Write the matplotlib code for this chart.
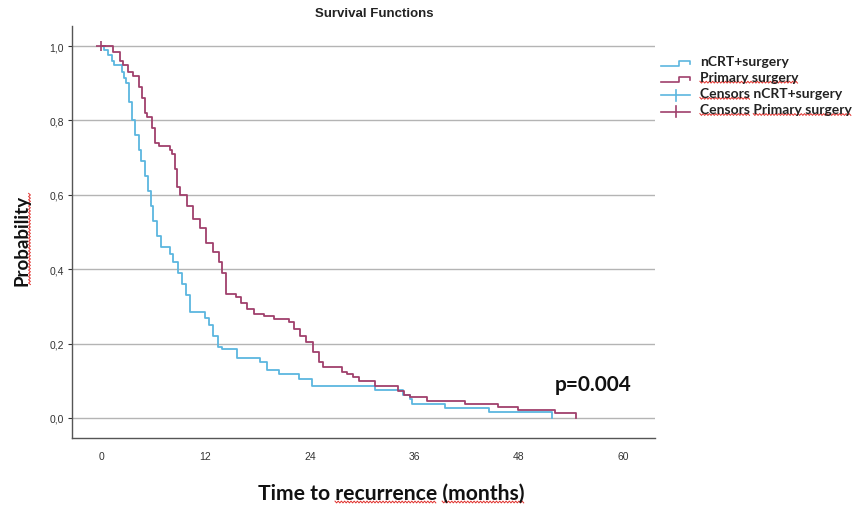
import numpy as np
import matplotlib
matplotlib.use("Agg")
import matplotlib.pyplot as plt
from matplotlib.lines import Line2D
from matplotlib.legend_handler import HandlerBase
from matplotlib.transforms import IdentityTransform

# Kaplan-Meier step data: time of each step (months) and survival after it
ncrt_times = [0, 0.3, 0.8, 1.2, 1.5, 2.4, 2.6, 2.9, 3.2, 3.5, 3.9, 4.3, 4.6, 5.0, 5.4,
              5.7, 6.0, 6.4, 6.9, 7.9, 8.3, 8.8, 9.3, 9.8, 10.2, 11.9, 12.4, 12.9,
              13.4, 13.9, 15.6, 18.3, 19.1, 20.5, 22.7, 24.3, 31.5, 34.7, 35.5,
              35.8, 39.6, 44.6, 51.9]
ncrt_surv = [1.0, 0.99, 0.975, 0.96, 0.95, 0.93, 0.915, 0.90, 0.85, 0.80, 0.76, 0.72,
             0.69, 0.65, 0.61, 0.57, 0.53, 0.49, 0.46, 0.44, 0.42, 0.39, 0.36, 0.33,
             0.285, 0.27, 0.25, 0.22, 0.19, 0.185, 0.16, 0.15, 0.13, 0.118, 0.105,
             0.086, 0.075, 0.062, 0.05, 0.038, 0.027, 0.016, 0.0]

surg_times = [0, 1.4, 2.2, 2.5, 3.1, 3.7, 4.3, 4.7, 5.1, 5.3, 5.9, 6.2, 6.6, 7.9, 8.2,
              8.5, 8.7, 9.1, 9.9, 10.6, 11.4, 12.1, 12.9, 13.5, 13.9, 14.4, 15.5,
              16.1, 16.8, 17.6, 18.7, 19.9, 21.6, 22.2, 22.9, 23.6, 24.4, 25.0,
              25.5, 27.7, 28.3, 29.0, 29.6, 31.5, 34.1, 34.8, 35.5, 37.5, 41.9,
              45.6, 47.9, 52.2, 54.6]
surg_surv = [1.0, 0.985, 0.96, 0.95, 0.93, 0.92, 0.89, 0.86, 0.82, 0.81, 0.78, 0.74,
             0.73, 0.72, 0.71, 0.67, 0.62, 0.60, 0.57, 0.535, 0.51, 0.47, 0.446,
             0.42, 0.39, 0.333, 0.325, 0.31, 0.293, 0.28, 0.274, 0.266, 0.258, 0.24,
             0.22, 0.204, 0.177, 0.15, 0.137, 0.124, 0.118, 0.11, 0.10, 0.086,
             0.073, 0.062, 0.055, 0.046, 0.038, 0.03, 0.021, 0.012, 0.0]

# censored observations (time, survival)
surg_censor_t = [0.0]
surg_censor_s = [1.0]

group_labels = ["nCRT+surgery", "Primary surgery",
                "Censors nCRT+surgery", "Censors Primary surgery"]
x_ticks = [0, 12, 24, 36, 48, 60]
y_ticks = [0.0, 0.2, 0.4, 0.6, 0.8, 1.0]
y_tick_labels = ["0,0", "0,2", "0,4", "0,6", "0,8", "1,0"]
p_text = "p=0.004"

BLUE = "#5cb6df"
PURPLE = "#a0406c"
BOLD_FONT = ["Lato", "DejaVu Sans"]
TICK_FONT = ["Liberation Sans", "DejaVu Sans"]

fig = plt.figure(figsize=(8.65, 5.10), dpi=100)
ax = fig.add_axes([72 / 865, 1 - 439 / 510, (655 - 72) / 865, (439 - 27) / 510])

ax.step(ncrt_times, ncrt_surv, where="post", color=BLUE, lw=1.3)
ax.step(surg_times, surg_surv, where="post", color=PURPLE, lw=1.3)
ax.plot(surg_censor_t, surg_censor_s, ls="none", marker="+", ms=7, mew=1.2,
        color=PURPLE)

ax.set_xlim(-3.35, 63.7)
ax.set_ylim(-0.054, 1.054)
ax.set_xticks(x_ticks)
ax.set_xticklabels([str(t) for t in x_ticks], family=TICK_FONT, fontsize=7.5,
                   color="#333333")
ax.set_yticks(y_ticks)
ax.set_yticklabels(y_tick_labels, family=TICK_FONT, fontsize=7.5, color="#333333")
ax.tick_params(axis="x", length=0, pad=9)
ax.tick_params(axis="y", length=3, width=0.8, pad=3, color="#333333")
ax.grid(axis="y", color="#b4b4b4", lw=1.0)
ax.set_axisbelow(True)
for side in ("top", "right"):
    ax.spines[side].set_visible(False)
for side in ("left", "bottom"):
    ax.spines[side].set_color("#555555")
    ax.spines[side].set_linewidth(1.0)

fig.text(374 / 865, 1 - 14 / 510, "Survival Functions", ha="center", va="center",
         family=TICK_FONT, fontweight="bold", fontsize=9.5, color="#222222")
ylab = fig.text(22 / 865, 1 - 240 / 510, "Probability", rotation=90, ha="center",
                va="center", family=BOLD_FONT, fontweight="bold", fontsize=13.5,
                color="#111111")
xlab = fig.text(391 / 865, 1 - 494 / 510, "Time to recurrence (months)", ha="center",
                va="center", family=BOLD_FONT, fontweight="bold", fontsize=15.2,
                color="#111111")
ax.text(52.2, 0.09, p_text, ha="left", va="center", family=BOLD_FONT,
        fontweight="bold", fontsize=15, color="#111111")


class StepHandler(HandlerBase):
    def create_artists(self, legend, orig_handle, xdescent, ydescent, width,
                       height, fontsize, trans):
        y0 = -height * 0.1 - ydescent
        y1 = height * 0.38 - ydescent
        x = -xdescent
        xs = [x, x + width * 0.6, x + width * 0.6, x + width, x + width]
        ys = [y0, y0, y1, y1, y0 + (y1 - y0) * 0.5]
        return [Line2D(xs, ys, color=orig_handle.get_color(), lw=1.2,
                       transform=trans)]


class CensorHandler(HandlerBase):
    def create_artists(self, legend, orig_handle, xdescent, ydescent, width,
                       height, fontsize, trans):
        x = -xdescent
        yc = height * 0.2 - ydescent
        c = orig_handle.get_color()
        horiz = Line2D([x, x + width], [yc, yc], color=c, lw=1.2, transform=trans)
        vert = Line2D([x + width / 2, x + width / 2],
                      [yc - height * 0.55, yc + height * 0.55], color=c, lw=1.2,
                      transform=trans)
        return [horiz, vert]


h1 = Line2D([], [], color=BLUE)
h2 = Line2D([], [], color=PURPLE)
h3 = Line2D([], [], color=BLUE)
h4 = Line2D([], [], color=PURPLE)
leg = fig.legend([h1, h2, h3, h4], group_labels, loc="upper left",
                 bbox_to_anchor=(661 / 865, 1 - 56 / 510), frameon=False,
                 prop={"family": BOLD_FONT, "weight": "bold", "size": 10},
                 handler_map={h1: StepHandler(), h2: StepHandler(),
                              h3: CensorHandler(), h4: CensorHandler()},
                 handlelength=2.1, handletextpad=0.7, labelspacing=0.3,
                 borderaxespad=0, borderpad=0)
for t in leg.get_texts():
    t.set_color("#222222")

# wavy red spell-check underlines
fig.canvas.draw()
renderer = fig.canvas.get_renderer()


def word_span(text_artist, word):
    s = text_artist.get_text()
    i = s.index(word)
    bb = text_artist.get_window_extent(renderer)
    prop = text_artist.get_fontproperties()
    full_w = renderer.get_text_width_height_descent(s, prop, ismath=False)[0]
    pre_w = renderer.get_text_width_height_descent(s[:i], prop, ismath=False)[0] if i else 0
    end_w = renderer.get_text_width_height_descent(s[:i + len(word)], prop,
                                                   ismath=False)[0]
    return bb, pre_w / full_w, end_w / full_w


def squiggle_h(x0, x1, y):
    xs = np.arange(x0, x1 + 0.1, 1.6)
    ys = y + np.where(np.arange(len(xs)) % 2 == 0, 0.9, -0.9)
    fig.add_artist(Line2D(xs, ys, color="#e0302c", lw=0.7,
                          transform=IdentityTransform()))


def squiggle_v(y0, y1, x):
    ys = np.arange(y0, y1 + 0.1, 1.6)
    xs = x + np.where(np.arange(len(ys)) % 2 == 0, 0.9, -0.9)
    fig.add_artist(Line2D(xs, ys, color="#e0302c", lw=0.7,
                          transform=IdentityTransform()))


def underline(text_artist, word):
    bb, f0, f1 = word_span(text_artist, word)
    x0 = bb.x0 + f0 * bb.width
    x1 = bb.x0 + f1 * bb.width
    squiggle_h(x0, x1, bb.y0 + 1)


bb = ylab.get_window_extent(renderer)
squiggle_v(bb.y0, bb.y1, bb.x1 - 1)
underline(xlab, "recurrence")
underline(xlab, "(months)")
texts = leg.get_texts()
underline(texts[1], "Primary surgery")
underline(texts[2], "Censors")
underline(texts[3], "Censors")
underline(texts[3], "Primary surgery")

fig.savefig("out.png", dpi=100)
